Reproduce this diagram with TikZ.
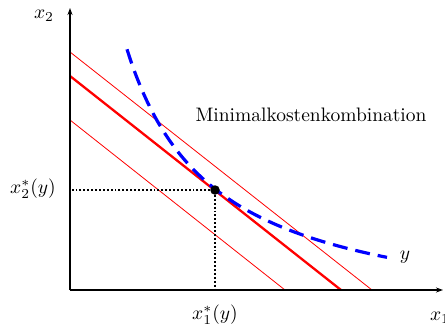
\documentclass[tikz,border=0pt]{standalone}
\usetikzlibrary{arrows.meta}
\begin{document}
\begin{tikzpicture}[x=1pt,y=1pt,
  lbl/.style={scale=1.95, inner sep=0pt},
  axisline/.style={line width=1.4pt, -{Stealth[length=7pt,width=5pt]}},
  budgetthin/.style={red, line width=0.8pt},
  budgetthick/.style={red, line width=2.3pt},
  isoquant/.style={blue, line width=3.2pt, dash pattern=on 15pt off 8pt},
  guide/.style={black, line width=1.9pt, dotted},
  optpoint/.style={circle, fill=black, inner sep=0pt, minimum size=9.5pt}]
\useasboundingbox (-70,-37) rectangle (375,290);
\coordinate (O) at (0,0);
\coordinate (ytip) at (0,282);
\coordinate (xtip) at (373,0);
% budget lines
\coordinate (u1) at (0,238); \coordinate (u2) at (302,0);
\coordinate (m1) at (0,214); \coordinate (m2) at (271,0);
\coordinate (l1) at (0,170); \coordinate (l2) at (215,0);
\draw[budgetthin] (u1) -- (u2);
\draw[budgetthick] (m1) -- (m2);
\draw[budgetthin] (l1) -- (l2);
% isoquant
\draw[isoquant] plot[domain=57:317, samples=80, smooth] (\x, {-37 + 241.63/((\x+30)/100)});
% optimum
\node[optpoint] (P) at (145,100) {};
\draw[guide] (P) -- (P -| O);
\draw[guide] (P) -- (P |- O);
% axes
\draw[axisline] (O) -- (ytip);
\draw[axisline] (O) -- (xtip);
% labels
\node[lbl] (lx2) at (-26,274) {$x_2$};
\node[lbl] (lx1) at (370,-28) {$x_1$};
\node[lbl] (lx2s) at (-37,101) {$x_2^*(y)$};
\node[lbl] (lx1s) at (145,-25) {$x_1^*(y)$};
\node[lbl] (ly) at (335,33) {$y$};
\node[lbl] (lmk) at (241,175) {Minimalkostenkombination};
\end{tikzpicture}
\end{document}
